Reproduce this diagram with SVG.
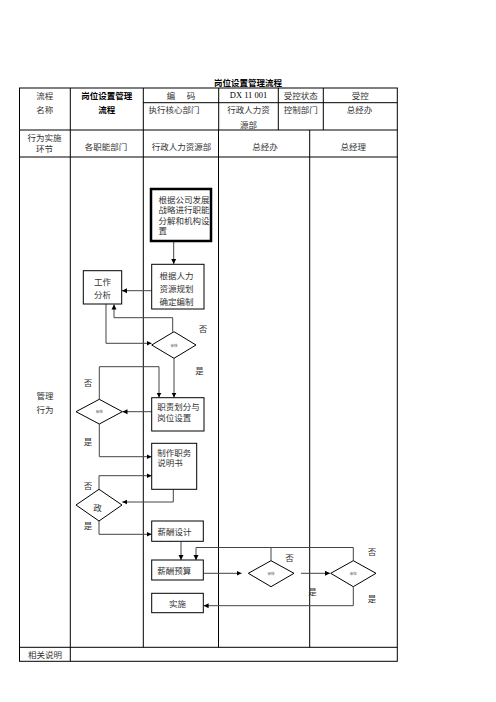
<svg xmlns="http://www.w3.org/2000/svg" width="496" height="702" viewBox="0 0 496 702">
<style>
text{font-family:"Noto Sans CJK SC","Liberation Serif",sans-serif;fill:#333;font-size:8.5px;text-anchor:middle;dominant-baseline:central}
.t{font-weight:bold;fill:#000}
.l{text-anchor:start}
.tl{stroke:#000;stroke-width:1;fill:none}
.box{fill:#fff;stroke:#000;stroke-width:1}
.thick{stroke-width:2.5}
.dia{fill:#fff;stroke:#000;stroke-width:1}
.c{stroke:#444;stroke-width:1;fill:none}
.tiny{font-size:3.5px;fill:#666}
</style>
<defs>
<marker id="ah" markerWidth="6" markerHeight="6" refX="5" refY="3" orient="auto" markerUnits="userSpaceOnUse">
<path d="M0,0.5 L5,3 L0,5.5 z" fill="#000"/>
</marker>
</defs>
<rect width="496" height="702" fill="#fff"/>
<text class="t" x="248" y="81.5" font-size="9">岗位设置管理流程</text>
<g id="table">
<rect class="tl" x="19.5" y="88" width="377.8" height="573.3"/>
<path class="tl" d="M143,102.7 H397.3 M19.5,130 H397.3 M19.5,157 H397.3 M19.5,647.3 H397.3 M70.3,88 V661.3 M143.3,88 V647.3 M218.7,88 V130 M278.3,88 V130 M323.3,88 V130 M218.5,130 V647.3 M309.7,130 V647.3"/>
<text x="44.8" y="95">流程</text>
<text x="44.8" y="109.3">名称</text>
<text class="t" x="106.8" y="95">岗位设置管理</text>
<text class="t" x="106.8" y="109.3">流程</text>
<text x="181" y="95" xml:space="preserve">编      码</text>
<text x="248.5" y="95" style="font-family:'Liberation Serif',serif;fill:#000">DX 11 001</text>
<text x="300.8" y="95">受控状态</text>
<text x="360.3" y="95">受控</text>
<text x="174" y="109.3">执行核心部门</text>
<text x="248.5" y="109.3">行政人力资</text>
<text x="248.5" y="123.5">源部</text>
<text x="300.8" y="109.3">控制部门</text>
<text x="359.5" y="109.3">总经办</text>
<text x="44.5" y="137.3">行为实施</text>
<text x="44.5" y="148">环节</text>
<text x="106" y="146">各职能部门</text>
<text x="181.5" y="146">行政人力资源部</text>
<text x="265" y="146">总经办</text>
<text x="353.3" y="146">总经理</text>
<text x="45" y="395.3">管理</text>
<text x="45" y="408.7">行为</text>
<text x="45" y="654">相关说明</text>
</g>
<g id="connectors">
<path class="c" d="M173.7,241.5 V264" marker-end="url(#ah)"/>
<path class="c" d="M151.7,290.7 H122" marker-end="url(#ah)"/>
<path class="c" d="M172.7,331.7 V317.7 H114 V304.5" marker-end="url(#ah)"/>
<path class="c" d="M106,304 V343.3 H151.5" marker-end="url(#ah)"/>
<path class="c" d="M174,358.3 V397.6" marker-end="url(#ah)"/>
<path class="c" d="M99.3,399.3 V366.7 H159 V397.6" marker-end="url(#ah)"/>
<path class="c" d="M151.7,411.7 H122.5" marker-end="url(#ah)"/>
<path class="c" d="M99.3,424 V456.7 H151.6" marker-end="url(#ah)"/>
<path class="c" d="M99,489.3 V475.7 H151.6" marker-end="url(#ah)"/>
<path class="c" d="M173.3,489.3 V502 H122.3" marker-end="url(#ah)"/>
<path class="c" d="M99,521 V534.3 H151.6" marker-end="url(#ah)"/>
<path class="c" d="M181,541.3 V560" marker-end="url(#ah)"/>
<path class="c" d="M353.3,560.7 V547.5 H196 V560" marker-end="url(#ah)"/>
<path class="c" d="M271,560.7 V547.5"/>
<path class="c" d="M203.3,573.3 H241.5" marker-end="url(#ah)"/>
<path class="c" d="M301,573.3 H330" marker-end="url(#ah)"/>
<path class="c" d="M353.3,586.7 V605.7 H203.6" marker-end="url(#ah)"/>
</g>
<g id="n1">
<rect class="box thick" x="151" y="189" width="60" height="52"/>
<text class="l" x="158.5" y="198.5" font-size="7">根据公司发展</text>
<text class="l" x="158.5" y="209" font-size="7">战略进行职能</text>
<text class="l" x="158.5" y="219.5" font-size="7">分解和机构设</text>
<text class="l" x="158.5" y="230" font-size="7">置</text>
</g>
<g id="n2">
<rect class="box" x="151.7" y="264.3" width="52.3" height="44.7"/>
<text class="l" x="159.5" y="275" font-size="9">根据人力</text>
<text class="l" x="159.5" y="288" font-size="9">资源规划</text>
<text class="l" x="159.5" y="301" font-size="9">确定编制</text>
</g>
<g id="n3">
<rect class="box" x="83.3" y="270.7" width="38.4" height="33.3"/>
<text x="102.5" y="281" font-size="9">工作</text>
<text x="102.5" y="294" font-size="9">分析</text>
</g>
<g id="d1">
<polygon class="dia" points="174,331.7 196,345 174,358.3 151.7,345"/>
<text class="tiny" x="174" y="345">审核</text>
<text x="203" y="328">否</text>
<text x="199.5" y="369.5">是</text>
</g>
<g id="n4">
<rect class="box" x="151.7" y="397.7" width="52.3" height="33.3"/>
<text class="l" x="157.3" y="405.5" font-size="7.5">职责划分与</text>
<text class="l" x="157.3" y="417" font-size="7.5">岗位设置</text>
</g>
<g id="d2">
<polygon class="dia" points="99.3,399.3 122.3,411.7 99.3,424 76,411.7"/>
<text class="tiny" x="99.3" y="411.7">审核</text>
<text x="88" y="382">否</text>
<text x="88" y="440.5">是</text>
</g>
<g id="n5">
<rect class="box" x="151.7" y="443.3" width="45" height="46"/>
<text class="l" x="157.3" y="451.8" font-size="7">制作职务</text>
<text class="l" x="157.3" y="462.3" font-size="7">说明书</text>
</g>
<g id="d3">
<polygon class="dia" points="99,489.3 122,505 99,521 76,505"/>
<text x="97.5" y="506.5" font-size="5" fill="#555">政</text>
<text x="88" y="485">否</text>
<text x="88" y="525">是</text>
</g>
<g id="n6">
<rect class="box" x="151.7" y="521" width="51.6" height="20.3"/>
<text class="l" x="157.5" y="530.8" font-size="9">薪酬设计</text>
</g>
<g id="n7">
<rect class="box" x="151.7" y="560" width="51.6" height="20"/>
<text class="l" x="157.3" y="570" font-size="8.5">薪酬预算</text>
</g>
<g id="d4">
<polygon class="dia" points="271,560.7 294,573.3 271,586.7 248.3,573.3"/>
<text class="tiny" x="271" y="573.5">审核</text>
<text x="289.5" y="557">否</text>
<text x="312.5" y="590.5">是</text>
</g>
<g id="d5">
<polygon class="dia" points="353.3,560.7 376,573.3 353.3,586.7 330.7,573.3"/>
<text class="tiny" x="353.3" y="573.5">审批</text>
<text x="372" y="551">否</text>
<text x="372" y="597.5">是</text>
</g>
<g id="n8">
<rect class="box" x="151.7" y="593.3" width="51.6" height="19.4"/>
<text x="177.5" y="603" font-size="8.5">实施</text>
</g>
</svg>
